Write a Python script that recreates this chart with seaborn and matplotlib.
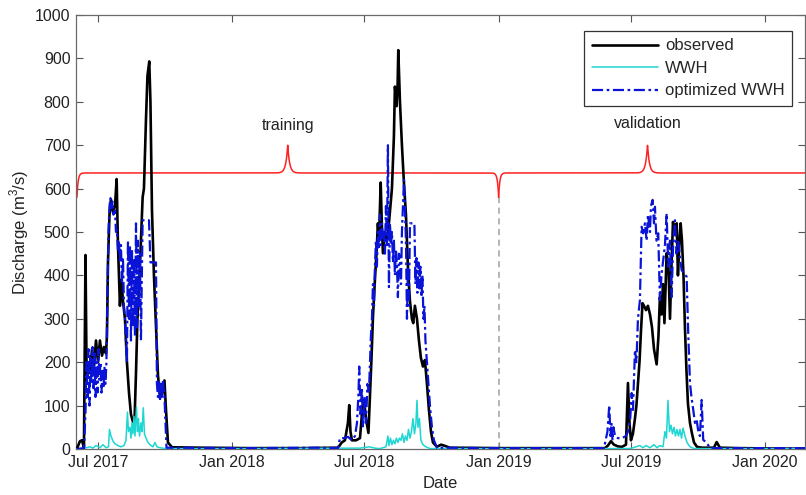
import numpy as np
import pandas as pd
import matplotlib
matplotlib.use("Agg")
import matplotlib.pyplot as plt
import matplotlib.dates as mdates
import seaborn as sns

# ---------------- data (day offsets from 2017-07-01, discharge m3/s) ----------------
START = pd.Timestamp("2017-07-01")

obs_day = [-29, -24.7, -21.9, -19.2, -17.1, -15.5, -13.7, -11, -8.2, -5.5, -2.7, 0, 2.7, 5.5, 8.2, 11,
           12.3, 13.7, 15.8, 17.8, 20.6, 23.3, 25.6, 27.4, 30.1, 32.2, 34.3, 37, 39.7, 42.5, 45.2, 48, 50,
           52.1, 54.1, 56.2, 58.9, 61.2, 63, 65.8, 67.8, 70.3, 71.9, 74, 76.7, 79.5, 82.2, 85, 87.7, 91.1,
           93.2, 95.9, 101.4, 140, 208, 277, 325,
           329, 334, 338.4, 342.5, 344.3, 346, 348, 353.5, 359, 361.7, 364.5, 367.2, 370.6, 372.7, 374.7,
           376.8, 379.5, 381.6, 383.6, 385, 387.4, 389.1, 390.5, 393.2, 396, 398.7, 402.8, 405.5, 406.9,
           409.2, 410.6, 411.5, 413.8, 416.5, 419.3, 422, 424.7, 427.5, 430.2, 432, 434.3, 437.1, 439.8,
           442.5, 445.3, 448, 450.8, 453.5, 456.3, 459, 464.5, 470, 474, 482, 551, 619, 688,
           694.7, 698.8, 702.9, 707, 712.5, 718, 723.5, 726.2, 728.3, 730.3, 733, 735.8, 737.8, 739.9,
           742, 744, 746.1, 748.2, 750.9, 753.6, 756.4, 759.1, 761.9, 765.5, 768, 770, 772.1, 774.2,
           776.2, 779.2, 781.7, 783.8, 785.8, 787.9, 790.6, 793, 794.7, 796.8, 798.4, 800.2, 802.3,
           804.3, 806.4, 808.4, 811.2, 813.9, 816.7, 820.8, 827.6, 844.1, 847.7, 852.2, 879.6, 934.5, 972]
obs_val = [0, 18, 20, 3, 447, 160, 200, 175, 230, 190, 250, 200, 250, 215, 235, 220,
           260, 430, 540, 575, 545, 560, 622, 470, 330, 390, 340, 300, 200, 130, 80, 62, 60,
           175, 300, 370, 480, 580, 600, 760, 860, 893, 800, 550, 400, 280, 170, 120, 125, 158,
           90, 15, 4, 3, 2, 2, 3,
           3, 15, 20, 60, 101, 40, 20, 20, 25, 80, 113, 70, 37, 120, 205,
           304, 390, 450, 520, 480, 614, 510, 451, 500, 480, 520, 600, 720, 835,
           790, 840, 919, 800, 700, 612, 540, 420, 340, 300, 290, 330, 300, 250,
           210, 190, 205, 150, 90, 40, 15, 5, 10, 8, 3, 2, 2, 2,
           2, 8, 18, 10, 6, 5, 10, 152, 60, 20, 35, 70, 100, 150,
           200, 270, 336, 330, 320, 330, 310, 281, 230, 195, 260, 350, 310, 380,
           290, 451, 420, 300, 420, 523, 500, 520, 400, 480, 520, 480, 400,
           280, 180, 105, 60, 36, 15, 5, 3, 3, 16, 3, 2, 1, 1]

wwh_day = [-29, -17.8, -11, -6.9, -2.7, 2.7, 6.9, 11, 14.4, 15.8, 17.8, 20.6, 23.3, 27.4, 31.5, 35.6,
           38.4, 40.4, 41.8, 43.8, 45.2, 46.6, 48, 49.3, 50.7, 52.8, 54.1, 55.5, 56.9, 58.9, 60.3, 62.1,
           63.7, 65.8, 68.5, 71.2, 75.4, 78.1, 80.8, 85, 91.8, 200, 359, 372, 379.5,
           386.4, 394.6, 397.3, 398.7, 400.8, 402.8, 404.9, 406.9, 409, 411, 413.1, 415.2, 417.2, 419.3,
           421.3, 423.4, 425.5, 427.5, 429.6, 431.6, 433.7, 435.7, 437.1, 438.5, 440.5, 442.5, 445.3,
           449.4, 454.9, 600, 729, 737.1, 742.6, 746.7, 750.9, 756.4, 761.9, 766, 770, 774.2, 776.9,
           779, 781, 783.1, 785.2, 787.2, 789.3, 791.3, 793.4, 795.5, 797.5, 799.6, 801.6, 804.3, 807.1,
           811.2, 816.7, 972]
wwh_val = [0, 2, 5, 2, 8, 3, 10, 3, 5, 45, 30, 18, 12, 8, 5, 8,
           20, 85, 40, 50, 25, 60, 35, 75, 30, 97, 40, 70, 30, 60, 40, 95,
           35, 25, 15, 10, 5, 15, 5, 3, 1, 1, 2, 5, 2,
           1, 5, 30, 8, 25, 10, 20, 12, 25, 15, 25, 20, 35, 15,
           30, 20, 45, 25, 40, 70, 35, 60, 112, 50, 70, 20, 10,
           5, 1, 1, 1, 5, 8, 3, 8, 3, 10, 3, 8, 5, 40,
           25, 112, 40, 55, 35, 50, 30, 45, 30, 45, 25, 48, 30, 15,
           5, 1, 1]

opt_day = [-29, -19, -17, -15.8, -14.4, -13, -11.6, -10.3, -8.9, -7.5, -6.2, -4.8, -3.4, -2.1, -0.7, 0.7,
           2.1, 3.4, 4.8, 6.2, 7.5, 8.9, 10.3, 11.6, 13, 14.4, 15.8, 17.1, 18.5, 19.9, 21.2, 23.3, 24.7,
           26, 27.4, 28.8, 30.1, 31.5, 32.9, 34.3, 35.6, 37, 38.4, 39.7, 41.1, 42.5, 43.8, 45.2, 46.6, 48,
           49.3, 50.7, 52.1, 53.4, 54.8, 56.2, 57.5, 58.9, 60.3, 61.2, 69.9, 71.9, 79.5, 80.8, 82.2, 83.6,
           84.9, 86.3, 87.7, 89, 91.1, 93.9, 98.6, 200, 300, 328.9,
           331.6, 337.1, 342.6, 348, 352.2, 354.9, 357, 358, 359.7, 361.7, 363.1, 365.2, 367.2, 369.3,
           371.3, 372.7, 374, 375.4, 376.8, 378.2, 379.5, 380.9, 382.2, 383.6, 385, 386.4, 387.7, 389.1,
           390.5, 391.8, 393.2, 394.6, 396, 397.3, 398.7, 400.1, 401.4, 402.8, 404.2, 405.5, 406.9,
           408.3, 409.7, 411, 412.4, 413.8, 415.2, 416.5, 417.9, 419.3, 420.6, 422, 423.4, 424.7, 426.1,
           427.5, 433.6, 435, 436.4, 437.7, 439.1, 440.5, 441.9, 443.2, 444.6, 446, 447.4, 448.7, 450.8,
           452.8, 454.9, 457.6, 460.4, 464.5, 550, 693.3,
           698.1, 700.6, 702.2, 703.6, 705, 706.4, 708.4, 712.5, 718, 723.5, 726.2, 729, 731.3, 733.1,
           735.8, 737.8, 739.9, 742.6, 744.9, 747.1, 749.5, 751.8, 753.6, 756.4, 757.7, 760, 761.9,
           763.2, 765.3, 767.7, 770, 772.1, 774.5, 776.9, 779.2, 781.4, 783.8, 786.1, 787.9, 790.6,
           792.7, 795.2, 797.5, 799.8, 806.6, 808.8, 811.2, 813.2, 815.7, 818, 820.3, 822.7, 824.8,
           827.2, 829.3, 833.9, 838.5, 972]
opt_val = [0, 2, 90, 200, 120, 230, 100, 210, 150, 235, 140, 220, 120, 200, 130, 230,
           160, 200, 130, 180, 140, 190, 150, 200, 350, 500, 560, 578, 555, 570, 540, 550, 500,
           505, 460, 480, 430, 470, 380, 440, 330, 300, 240, 200, 480, 300, 470, 250, 460, 280,
           440, 260, 520, 280, 480, 330, 450, 250, 420, 527, 527, 430, 430, 150, 120, 160,
           110, 150, 120, 160, 120, 3, 3, 2, 3, 2,
           25, 25, 28, 20, 30, 60, 130, 190, 80, 140, 50, 120, 60, 150,
           130, 200, 260, 300, 380, 330, 420, 480, 420, 500, 460, 540, 470, 520,
           480, 500, 450, 560, 470, 700, 373, 520, 470, 500, 430, 480, 400,
           460, 420, 350, 450, 440, 380, 500, 560, 620, 560, 480, 300, 420, 330,
           520, 520, 380, 440, 360, 430, 370, 420, 350, 400, 300, 330, 250, 200,
           150, 100, 50, 20, 3, 2, 2,
           40, 101, 30, 60, 20, 50, 30, 25, 25, 30, 40, 60, 129, 90,
           228, 200, 300, 343, 512, 497, 520, 480, 540, 500, 560, 574, 520,
           558, 480, 497, 343, 400, 435, 470, 543, 420, 480, 350, 460, 527,
           450, 480, 440, 412, 397, 266, 152, 120, 90, 60, 67, 40, 30,
           113, 21, 15, 2, 2]

series_names = ["observed", "WWH", "optimized WWH"]
period_labels = ["training", "validation"]
split_day = 549          # 2019-01-01
train_peak_day = 260     # position of the "training" brace tip
valid_peak_day = 753     # position of the "validation" brace tip

# ---------------- plotting ----------------
sns.set_theme(style="white")
plt.rcParams["font.family"] = ["Liberation Sans", "DejaVu Sans"]
plt.rcParams["mathtext.fontset"] = "custom"
plt.rcParams["mathtext.rm"] = "Liberation Sans"

W, H = 806, 495
fig = plt.figure(figsize=(W / 100, H / 100), dpi=100)
ax = fig.add_axes([76 / W, 1 - 449 / H, 729 / W, 434 / H])


def to_dates(days):
    return START + pd.to_timedelta(np.asarray(days, dtype=float), unit="D")


def frame(days, vals):
    return pd.DataFrame({"date": to_dates(days), "val": vals})


sns.lineplot(data=frame(obs_day, obs_val), x="date", y="val", ax=ax, color="black",
             lw=1.9, estimator=None, sort=False, label=series_names[0], zorder=3)
sns.lineplot(data=frame(wwh_day, wwh_val), x="date", y="val", ax=ax, color="#1ed6d2",
             lw=1.1, estimator=None, sort=False, label=series_names[1], zorder=4)
sns.lineplot(data=frame(opt_day, opt_val), x="date", y="val", ax=ax, color="#0a14d8",
             lw=1.6, estimator=None, sort=False, label=series_names[2], zorder=5,
             dashes=False, linestyle=(0, (5, 1.6, 1.2, 1.6)))

# braces marking training / validation periods
base, tip, drop = 636, 700, 580


def brace(d0, d1, dm, n=3000):
    x = np.linspace(d0, d1, n)
    y = (base + (tip - base) * np.exp(-np.abs(x - dm) / 2.6)
         - (base - drop) * np.exp(-(x - d0) / 1.6)
         - (base - drop) * np.exp(-(d1 - x) / 1.6))
    return x, y


for (d0, d1, dm) in [(-28.8, split_day, train_peak_day), (split_day, 1010, valid_peak_day)]:
    bx, by = brace(d0, d1, dm)
    ax.plot(to_dates(bx), by, color="#ff2020", lw=1.1, zorder=2)

ax.plot(to_dates([split_day, split_day]), [0, drop], color="#a0a0a0", lw=1.1,
        linestyle=(0, (4, 3)), zorder=1)

ax.text(to_dates([train_peak_day])[0], 746, period_labels[0], ha="center", va="center",
        fontsize=11.5, color="#222222")
ax.text(to_dates([valid_peak_day])[0], 751, period_labels[1], ha="center", va="center",
        fontsize=11.5, color="#222222")

# axes styling
ax.set_xlim(to_dates([-30.1])[0], to_dates([968.8])[0])
ax.set_ylim(0, 1000)
ax.set_yticks(np.arange(0, 1001, 100))
ax.xaxis.set_major_locator(mdates.MonthLocator(bymonth=[1, 7]))
ax.xaxis.set_major_formatter(mdates.DateFormatter("%b %Y"))
ax.tick_params(direction="in", length=5, width=0.8, color="#555555", labelsize=11.5,
               labelcolor="#222222", top=True, right=True, bottom=True, left=True, pad=4)
for s in ax.spines.values():
    s.set_color("#6a6a6a")
    s.set_linewidth(0.9)
    s.set_visible(True)
ax.grid(False)
ax.set_xlabel("Date", fontsize=12, color="#222222", labelpad=5)
ax.set_ylabel("Discharge (m$^3$/s)", fontsize=12, color="#222222", labelpad=3)

leg = ax.legend(loc="upper right", bbox_to_anchor=((792 - 76) / 729, (449 - 31) / 434),
                borderaxespad=0, frameon=True, fancybox=False, framealpha=1,
                edgecolor="#333333", fontsize=12, handlelength=4.0, handletextpad=0.4,
                labelspacing=0.45, borderpad=0.45)
leg.get_frame().set_linewidth(0.9)

fig.savefig("out.png", dpi=100)
